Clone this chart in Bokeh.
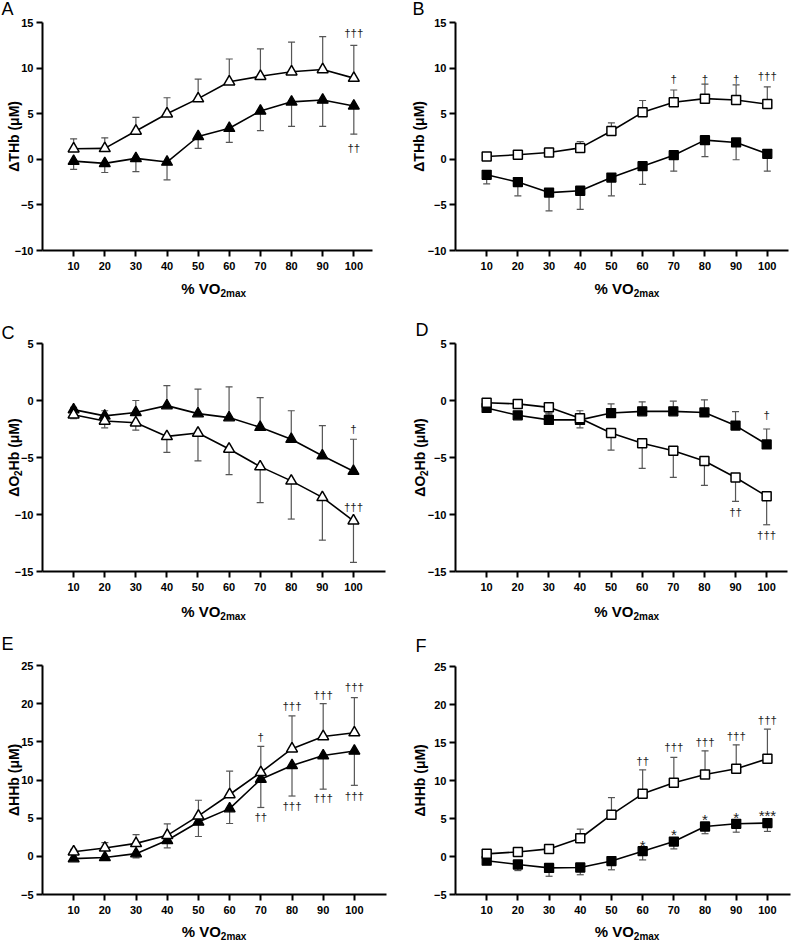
import math
from bokeh.plotting import figure
from bokeh.models import ColumnDataSource, Whisker, TeeHead, Label, FixedTicker, Range1d
from bokeh.layouts import gridplot
from bokeh.embed import file_html
from bokeh.resources import INLINE
from bokeh.core.properties import value

# ---------------- data ----------------
X = [10, 20, 30, 40, 50, 60, 70, 80, 90, 100]
X_TICKS = [10, 20, 30, 40, 50, 60, 70, 80, 90, 100]

# Panel A: dTHb, triangles
A_open = [1.15, 1.2, 3.1, 5.0, 6.65, 8.5, 9.1, 9.6, 9.85, 8.9]
A_open_sd = [1.1, 1.15, 1.5, 1.75, 2.15, 2.5, 3.0, 3.25, 3.6, 3.6]
A_fill = [-0.2, -0.45, 0.1, -0.3, 2.5, 3.4, 5.3, 6.3, 6.5, 5.85]
A_fill_sd = [0.9, 1.0, 1.45, 1.95, 1.3, 1.55, 2.15, 2.7, 2.9, 3.1]
A_ann_x = [100, 100]
A_ann_y = [13.8, 1.2]
A_ann_t = ["†††", "††"]

# Panel B: dTHb, squares
B_open = [0.3, 0.5, 0.75, 1.25, 3.1, 5.15, 6.25, 6.65, 6.5, 6.05]
B_open_sd = [0.2, 0.2, 0.45, 0.7, 0.9, 1.3, 1.35, 1.6, 1.65, 1.9]
B_fill = [-1.7, -2.5, -3.65, -3.45, -2.0, -0.75, 0.45, 2.1, 1.85, 0.6]
B_fill_sd = [1.0, 1.5, 2.0, 2.05, 2.0, 2.0, 1.75, 1.8, 1.9, 1.9]
B_ann_x = [70, 80, 90, 100]
B_ann_y = [8.8, 8.8, 8.8, 9.1]
B_ann_t = ["†", "†", "†", "†††"]

# Panel C: dO2Hb, triangles
C_open = [-1.25, -1.8, -1.95, -3.15, -2.85, -4.25, -5.8, -7.05, -8.5, -10.55]
C_open_sd = [0.35, 0.6, 0.65, 1.4, 2.45, 2.25, 3.15, 3.35, 3.75, 3.65]
C_fill = [-0.8, -1.35, -1.05, -0.45, -1.15, -1.5, -2.35, -3.4, -4.85, -6.2]
C_fill_sd = [0.2, 0.45, 1.05, 1.75, 2.15, 2.7, 2.6, 2.5, 2.65, 2.8]
C_ann_x = [100, 100]
C_ann_y = [-2.5, -9.35]
C_ann_t = ["†", "†††"]

# Panel D: dO2Hb, squares
D_open = [-0.2, -0.3, -0.6, -1.55, -2.85, -3.75, -4.4, -5.3, -6.75, -8.4]
D_open_sd = [0.2, 0.2, 0.6, 0.85, 1.5, 2.2, 2.35, 2.15, 2.1, 2.5]
D_fill = [-0.65, -1.3, -1.7, -1.7, -1.1, -0.95, -0.95, -1.05, -2.2, -3.85]
D_fill_sd = [0.15, 0.3, 0.6, 0.8, 0.8, 0.83, 0.89, 1.11, 1.23, 1.35]
D_ann_x = [100, 90, 100]
D_ann_y = [-1.3, -9.8, -11.8]
D_ann_t = ["†", "††", "†††"]

# Panel E: dHHb, triangles
E_open = [0.6, 1.1, 1.7, 2.75, 5.3, 8.1, 11.0, 14.1, 15.7, 16.2]
E_open_sd = [0.3, 0.7, 1.15, 1.5, 2.05, 3.05, 3.4, 4.3, 4.3, 4.6]
E_fill = [-0.3, -0.15, 0.35, 2.1, 4.5, 6.25, 10.1, 11.9, 13.2, 13.8]
E_fill_sd = [0.2, 0.2, 0.55, 1.0, 1.9, 1.95, 3.7, 4.0, 4.4, 4.5]
E_ann_x = [70, 80, 90, 100, 70, 80, 90, 100]
E_ann_y = [15.6, 19.7, 21.2, 22.2, 5.15, 6.6, 7.7, 7.9]
E_ann_t = ["†", "†††", "†††", "†††", "††", "†††", "†††", "†††"]

# Panel F: dHHb, squares
F_open = [0.35, 0.6, 1.0, 2.4, 5.5, 8.25, 9.7, 10.8, 11.55, 12.85]
F_open_sd = [0.15, 0.15, 0.2, 1.2, 2.25, 3.15, 3.35, 3.1, 3.15, 3.9]
F_fill = [-0.55, -1.05, -1.5, -1.45, -0.6, 0.7, 1.97, 3.95, 4.3, 4.4]
F_fill_sd = [0.15, 0.8, 1.1, 0.95, 1.15, 1.15, 0.97, 0.95, 1.1, 1.1]
F_ann_x = [60, 70, 80, 90, 100, 60, 70, 80, 90, 100]
F_ann_y = [2.0, 3.4, 5.4, 5.7, 5.9, 12.6, 14.35, 15.1, 15.9, 17.9]
F_ann_t = ["*", "*", "*", "*", "***", "††", "†††", "†††", "†††", "†††"]

# ---------------- style ----------------
FONT = "Liberation Sans"
ERR = "#555555"
ANN = "#222222"

# approximate advance widths (em) for Liberation Sans Bold, used to place subscript pieces
EM = {'%': 0.889, ' ': 0.278, 'V': 0.667, 'O': 0.778, '2': 0.556, 'm': 0.889, 'a': 0.556,
      'x': 0.556, 'Δ': 0.70, 'T': 0.611, 'H': 0.722, 'b': 0.611, '(': 0.333, 'μ': 0.611,
      'M': 0.833, ')': 0.333}


def text_w(s, size):
    return sum(EM.get(c, 0.6) for c in s) * size


def add_err(p, ys, sds, up):
    head = TeeHead(size=7, line_color=ERR, line_width=1.2)
    if up:
        lo = list(ys)
        hi = [y + s for y, s in zip(ys, sds)]
        uh, lh = head, None
    else:
        lo = [y - s for y, s in zip(ys, sds)]
        hi = list(ys)
        uh, lh = None, head
    src = ColumnDataSource(dict(x=X, lo=lo, hi=hi))
    p.add_layout(Whisker(source=src, base="x", lower="lo", upper="hi", dimension="height",
                         line_color=ERR, line_width=1.2, upper_head=uh, lower_head=lh,
                         level="underlay"))


def make_panel(letter, letter_pos, open_y, open_sd, open_up, fill_y, fill_sd, fill_up, marker,
               msize, ylab_parts, ylab_x, y_lo, y_hi, x_hi, W, H, borders,
               ann_x, ann_y, ann_t, xlab_mid):
    # borders: pixel distance of the axes box from the canvas edges (left, right, top, bottom)
    bl, br, bt, bb = borders
    ppx = (W - bl - br) / x_hi
    ppy = (H - bt - bb) / (y_hi - y_lo)
    xr = Range1d(-bl / ppx, x_hi + br / ppx)
    yr = Range1d(y_lo - bb / ppy, y_hi + bt / ppy)
    p = figure(width=W, height=H, output_backend="svg", toolbar_location=None,
               x_range=xr, y_range=yr, min_border=0)
    p.outline_line_color = None
    p.xgrid.visible = False
    p.ygrid.visible = False
    p.background_fill_color = "white"
    p.border_fill_color = "white"

    p.xaxis[0].fixed_location = y_lo
    p.yaxis[0].fixed_location = 0
    p.xaxis[0].bounds = (0, x_hi)
    p.yaxis[0].bounds = (y_lo, y_hi)
    for ax, ticks, standoff in ((p.xaxis[0], X_TICKS, 5),
                                (p.yaxis[0], list(range(int(y_lo), int(y_hi) + 1, 5)), 3)):
        ax.ticker = FixedTicker(ticks=ticks)
        ax.axis_line_width = 2
        ax.axis_line_color = "black"
        ax.major_tick_line_width = 2
        ax.major_tick_line_color = "black"
        ax.major_tick_out = 6
        ax.major_tick_in = 0
        ax.minor_tick_line_color = None
        ax.major_label_text_font = FONT
        ax.major_label_text_font_size = "11px"
        ax.major_label_text_font_style = "bold"
        ax.major_label_text_color = "black"
        ax.major_label_standoff = standoff

    add_err(p, fill_y, fill_sd, fill_up)
    add_err(p, open_y, open_sd, open_up)

    p.line(X, fill_y, line_color="black", line_width=1.6)
    p.line(X, open_y, line_color="black", line_width=1.6)
    p.scatter(X, fill_y, marker=marker, size=msize, fill_color="black", line_color="black",
              line_width=1.3)
    p.scatter(X, open_y, marker=marker, size=msize, fill_color="white", line_color="black",
              line_width=1.5)

    # significance marks: daggers and asterisks
    dag = [(x, y, t) for x, y, t in zip(ann_x, ann_y, ann_t) if "*" not in t]
    ast = [(x, y, t) for x, y, t in zip(ann_x, ann_y, ann_t) if "*" in t]
    if dag:
        p.text(x=[d[0] for d in dag], y=[d[1] for d in dag], text=[d[2] for d in dag],
               text_font=value(FONT), text_font_size="11.5px", text_align="center",
               text_baseline="middle", text_color=ANN)
    if ast:
        p.text(x=[d[0] for d in ast], y=[d[1] for d in ast], text=[d[2] for d in ast],
               text_font=value(FONT), text_font_size="15px", text_align="center",
               text_baseline="middle", text_color=ANN, y_offset=4)

    bottom = H - bb  # canvas y (from top) of the x axis

    def lab(cx, cy, text, size, bold=True, angle=0.0, align="left"):
        p.add_layout(Label(x=cx, y=H - cy, x_units="screen", y_units="screen", text=text,
                           angle=angle, text_align=align, text_baseline="middle",
                           text_font=FONT, text_font_size=f"{size}px",
                           text_font_style="bold" if bold else "normal", text_color="black"))

    # x axis label with subscript, centred on the tick span
    main, sub = "% VO", "2max"
    w1 = text_w(main, 15)
    w2 = text_w(sub, 10)
    cx0 = bl + 55 * ppx - (w1 + w2) / 2
    lab(cx0, bottom + xlab_mid, main, 15)
    lab(cx0 + w1, bottom + xlab_mid + 4.5, sub, 10)

    # rotated y axis label, possibly with subscript
    ws = [text_w(t, s) for t, s, _ in ylab_parts]
    L = sum(ws)
    cy = (bt + bottom) / 2 + L / 2  # canvas y where the text starts (bottom end)
    for (t, s, dx), w in zip(ylab_parts, ws):
        lab(bl + ylab_x + dx, cy, t, s, angle=math.pi / 2)
        cy -= w

    # panel letter
    lab(letter_pos[0], letter_pos[1], letter, 18, bold=False)
    return p


THB = [("ΔTHb (μM)", 14, 0)]
O2HB = [("ΔO", 14, 0), ("2", 10, 4), ("Hb (μM)", 14, 0)]
HHB = [("ΔHHb (μM)", 14, 0)]

pA = make_panel("A", (1, 8.5), A_open, A_open_sd, True, A_fill, A_fill_sd, False, "triangle",
                11, THB, -29, -10, 15, 106.0, 400, 300, (42, 28, 22, 50),
                A_ann_x, A_ann_y, A_ann_t, 38)
pB = make_panel("B", (12, 8.5), B_open, B_open_sd, True, B_fill, B_fill_sd, False, "square",
                9, THB, -37, -10, 15, 106.8, 398, 300, (55, 10, 22, 50),
                B_ann_x, B_ann_y, B_ann_t, 38)
pC = make_panel("C", (1, 32.5), C_open, C_open_sd, False, C_fill, C_fill_sd, True, "triangle",
                11, O2HB, -29, -15, 5, 110.3, 400, 320, (42, 15, 43, 49),
                C_ann_x, C_ann_y, C_ann_t, 40)
pD = make_panel("D", (15, 29.5), D_open, D_open_sd, False, D_fill, D_fill_sd, True, "square",
                9, O2HB, -36, -15, 5, 106.7, 398, 320, (55, 11, 43, 49),
                D_ann_x, D_ann_y, D_ann_t, 40)
pE = make_panel("E", (1, 23.5), E_open, E_open_sd, True, E_fill, E_fill_sd, False, "triangle",
                11, HHB, -29, -5, 25, 110.3, 400, 320, (42, 14, 45, 46),
                E_ann_x, E_ann_y, E_ann_t, 37)
pF = make_panel("F", (15, 25.5), F_open, F_open_sd, True, F_fill, F_fill_sd, False, "square",
                9, HHB, -36, -5, 25, 107.4, 398, 320, (55, 8, 46, 46),
                F_ann_x, F_ann_y, F_ann_t, 37)

grid = gridplot([[pA, pB], [pC, pD], [pE, pF]], toolbar_location=None)

open("out.html", "w").write(file_html(grid, INLINE))
